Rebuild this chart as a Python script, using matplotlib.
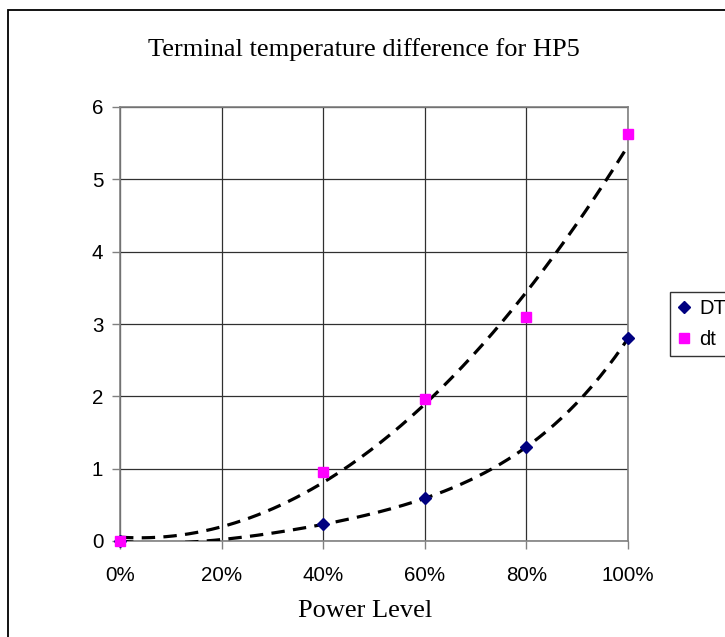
import numpy as np
import matplotlib
matplotlib.use("Agg")
import matplotlib.pyplot as plt
from matplotlib.patches import Rectangle
from matplotlib.ticker import FuncFormatter

power = [0.0, 0.4, 0.6, 0.8, 1.0]
DT = [0.0, 0.23, 0.59, 1.30, 2.80]
dt = [0.0, 0.96, 1.97, 3.10, 5.63]
xticks = [0.0, 0.2, 0.4, 0.6, 0.8, 1.0]
yticks = [0, 1, 2, 3, 4, 5, 6]
title = "Terminal temperature difference for HP5"
xlabel = "Power Level"

W, H = 725, 637
fig = plt.figure(figsize=(W / 100, H / 100), dpi=100)

# outer chart-area border (extends past the right and bottom edges)
fig.add_artist(Rectangle((8 / W, -0.05), 1.1, 1 - 10 / H + 0.05, transform=fig.transFigure,
                         fill=False, edgecolor="black", linewidth=1.3))

ax = fig.add_axes([120 / W, 1 - 541 / H, (628 - 120) / W, (541 - 107) / H])
ax.set_xlim(0, 1)
ax.set_ylim(0, 6)

for s in ["top", "right", "left", "bottom"]:
    ax.spines[s].set_color("#808080")
    ax.spines[s].set_linewidth(1.2)

ax.set_xticks(xticks)
ax.set_yticks(yticks)
ax.xaxis.set_major_formatter(FuncFormatter(lambda v, p: f"{v * 100:.0f}%"))
ax.tick_params(axis="both", direction="out", length=6, width=1.0, color="#808080",
               labelsize=14.8, pad=6)
for lab in ax.get_xticklabels() + ax.get_yticklabels():
    lab.set_fontfamily("Liberation Sans")
ax.tick_params(axis="x", pad=12)
ax.grid(True, color="#303030", linewidth=0.9)
ax.set_axisbelow(True)

# polynomial trendlines
xs = np.linspace(0, 1, 200)
for ys, order in ((DT, 4), (dt, 2)):
    c = np.polyfit(power, ys, order)
    ax.plot(xs, np.polyval(c, xs), color="black", linewidth=2.3,
            linestyle=(0, (4.2, 2.6)), zorder=3)

ax.plot(power, DT, linestyle="none", marker="D", markersize=6.5, color="#000080",
        label="DT", zorder=4, clip_on=False)
ax.plot(power, dt, linestyle="none", marker="s", markersize=7, color="#FF00FF",
        label="dt", zorder=4, clip_on=False)

fig.text(364 / W, 1 - 50 / H, title, ha="center", va="center",
         fontfamily="Liberation Serif", fontsize=19)
fig.text(365 / W, 1 - 611 / H, xlabel, ha="center", va="center",
         fontfamily="Liberation Serif", fontsize=19)

leg = fig.legend(loc="upper left", bbox_to_anchor=(670 / W, 1 - 292 / H),
                 bbox_transform=fig.transFigure, frameon=True, fancybox=False,
                 prop={"family": "Liberation Sans", "size": 14.5},
                 handlelength=0.7, handletextpad=0.4, borderpad=0.35,
                 labelspacing=0.6, borderaxespad=0)
leg.get_frame().set_edgecolor("black")
leg.get_frame().set_linewidth(1.0)

fig.savefig("out.png", dpi=100)
